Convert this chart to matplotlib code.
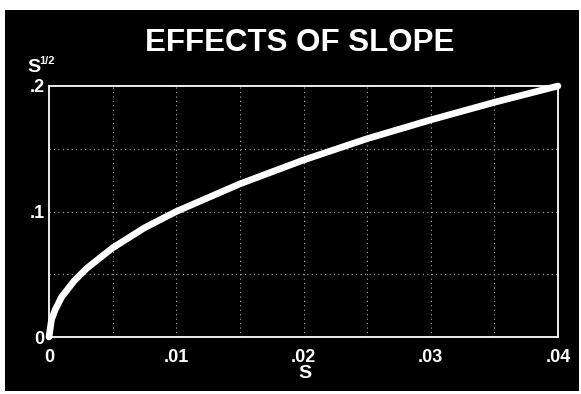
import matplotlib
matplotlib.use("Agg")
import matplotlib.pyplot as plt
from matplotlib.patches import Rectangle

# Data
slope = [0, 0.0002, 0.0005, 0.001, 0.002, 0.003, 0.005, 0.0075, 0.01,
         0.015, 0.02, 0.025, 0.03, 0.035, 0.04]
sqrt_slope = [0, 0.014, 0.022, 0.032, 0.045, 0.055, 0.071, 0.087, 0.100,
              0.122, 0.141, 0.158, 0.173, 0.187, 0.200]
xticks = [0, 0.01, 0.02, 0.03, 0.04]
xticklabels = ["0", ".01", ".02", ".03", ".04"]
yticks = [0, 0.1, 0.2]
yticklabels = ["0", ".1", ".2"]

plt.rcParams['font.family'] = ['Liberation Sans', 'DejaVu Sans']

W, H = 581, 394
fig = plt.figure(figsize=(W / 100, H / 100), dpi=100, facecolor="white")
# black panel
fig.patches.append(Rectangle((5 / W, 1 - 391 / H), (579 - 5) / W, (391 - 10) / H,
                             transform=fig.transFigure, facecolor="black",
                             edgecolor="none", zorder=-5))

left, right, top, bottom = 49, 558, 86, 337
ax = fig.add_axes([left / W, 1 - bottom / H, (right - left) / W, (bottom - top) / H])
ax.set_zorder(2)
ax.set_facecolor("black")
ax.set_xlim(0, 0.04)
ax.set_ylim(0, 0.2)

# grid
for gx in [0.005 * i for i in range(1, 8)]:
    ax.axvline(gx, color="#aaaaaa", lw=0.8, ls=(0, (1, 3)), zorder=1)
for gy in [0.05, 0.1, 0.15]:
    ax.axhline(gy, color="#aaaaaa", lw=0.8, ls=(0, (1, 3)), zorder=1)

ax.plot(slope, sqrt_slope, color="white", lw=4.8, solid_capstyle="round", zorder=3,
        clip_on=False)

for sp in ax.spines.values():
    sp.set_color("white")
    sp.set_linewidth(1.3)

ax.set_xticks(xticks)
ax.set_xticklabels(xticklabels)
ax.set_yticks(yticks)
ax.set_yticklabels(yticklabels)
ax.tick_params(length=0, colors="white", labelsize=13)
ax.tick_params(axis="x", pad=9)
ax.tick_params(axis="y", pad=3)
for lab in ax.get_xticklabels() + ax.get_yticklabels():
    lab.set_fontweight("bold")

fig.text(300 / W, 1 - 43 / H, "EFFECTS OF SLOPE", color="white", fontsize=22.5,
         fontweight="bold", ha="center", va="center")
fig.text(27 / W, 1 - 72 / H, "S", color="white", fontsize=14,
         fontweight="bold", ha="left", va="baseline")
fig.text(39 / W, 1 - 63.5 / H, "1/2", color="white", fontsize=8,
         fontweight="bold", ha="left", va="baseline")
fig.text(305 / W, 1 - 374 / H, "S", color="white", fontsize=14,
         fontweight="bold", ha="center", va="center")

fig.savefig("out.png", dpi=100, facecolor="white")
